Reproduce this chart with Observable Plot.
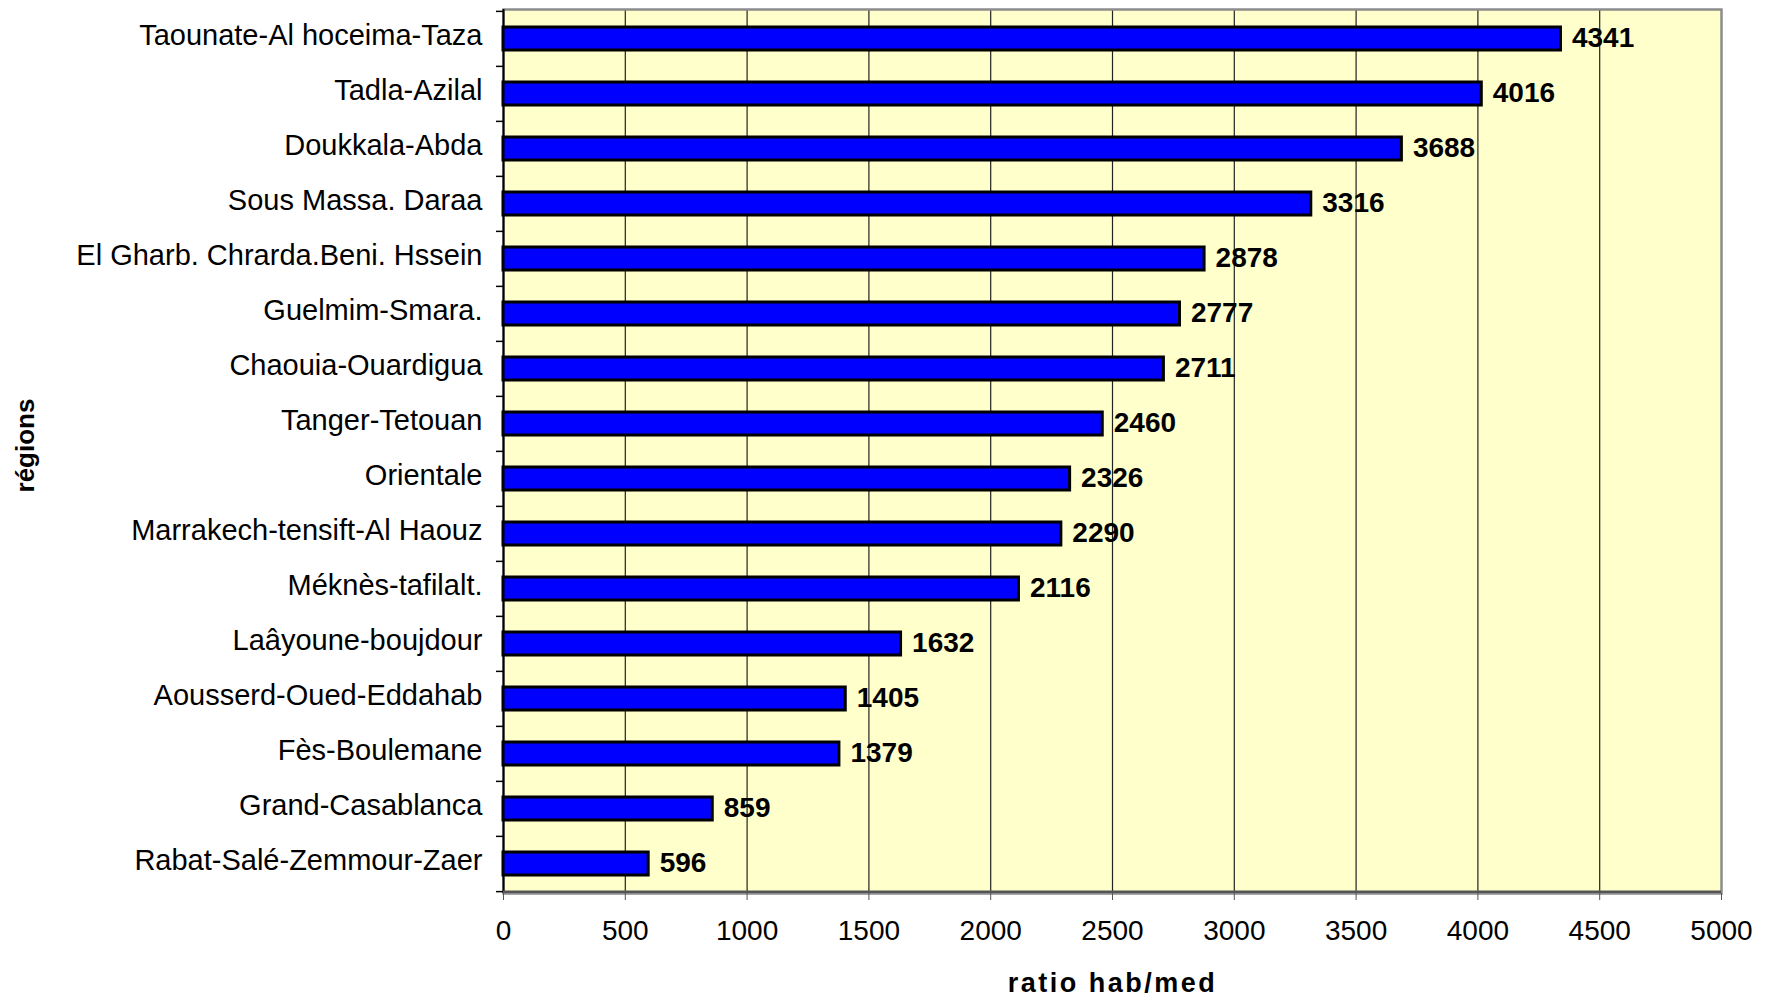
<!DOCTYPE html>
<html>
<head>
<meta charset="utf-8">
<script src="https://cdn.jsdelivr.net/npm/d3@7"></script>
<script src="https://cdn.jsdelivr.net/npm/@observablehq/plot@0.6"></script>
<style>
  html, body { margin: 0; padding: 0; background: white; }
  .xlabel-title text, text.xlabel-title, .xlabel-title { letter-spacing: 2.5px; }
</style>
</head>
<body>
<div id="chart"></div>
<script>
const regions = [
  "Taounate-Al hoceima-Taza",
  "Tadla-Azilal",
  "Doukkala-Abda",
  "Sous Massa. Daraa",
  "El Gharb. Chrarda.Beni. Hssein",
  "Guelmim-Smara.",
  "Chaouia-Ouardigua",
  "Tanger-Tetouan",
  "Orientale",
  "Marrakech-tensift-Al Haouz",
  "Méknès-tafilalt.",
  "Laâyoune-boujdour",
  "Aousserd-Oued-Eddahab",
  "Fès-Boulemane",
  "Grand-Casablanca",
  "Rabat-Salé-Zemmour-Zaer"
];
const values = [4341, 4016, 3688, 3316, 2878, 2777, 2711, 2460, 2326, 2290, 2116, 1632, 1405, 1379, 859, 596];
const xTicks = [0, 500, 1000, 1500, 2000, 2500, 3000, 3500, 4000, 4500, 5000];
const xLabel = "ratio hab/med";
const yLabel = "régions";

const data = regions.map((r, i) => ({region: r, value: values[i]}));

const W = 1767, H = 996;
const mL = 503, mR = 46, mT = 9, mB = 103;
const step = (H - mT - mB) / regions.length;
const tickLenData = 7 * 5000 / (W - mL - mR);

const chart = Plot.plot({
  width: W,
  height: H,
  marginLeft: mL,
  marginRight: mR,
  marginTop: mT,
  marginBottom: mB,
  style: {fontFamily: "'Liberation Sans', Arial, sans-serif", fontSize: "28px", background: "white", color: "black", overflow: "visible"},
  x: {domain: [0, 5000], ticks: xTicks},
  y: {domain: regions, paddingInner: 0.58, paddingOuter: 0.29},
  marks: [
    Plot.frame({fill: "#FFFFCC", stroke: null}),
    Plot.gridX(xTicks.slice(1, -1), {stroke: "#222", strokeOpacity: 1, strokeWidth: 1.2}),
    Plot.frame({stroke: "#8c8c8c", strokeWidth: 2.5}),
    Plot.ruleX([0], {stroke: "#000", strokeWidth: 2}),
    Plot.ruleY([0], {y: () => regions[regions.length - 1], dy: step / 2, x1: 0, x2: 5000, stroke: "#555", strokeWidth: 2.5}),
    Plot.barX(data, {x: "value", y: "region", fill: "#0000FF", stroke: "#000", strokeWidth: 3}),
    Plot.text(data, {x: "value", y: "region", text: d => String(d.value), dx: 11, dy: -1, textAnchor: "start", fontWeight: "bold", fontSize: 28, fill: "#000"}),
    Plot.axisY({tickSize: 0, tickPadding: 21, label: null, fontSize: 29, dy: -3}),
    Plot.ruleY(regions, {y: d => d, dy: -step / 2, x1: -tickLenData, x2: 0, stroke: "#000", strokeWidth: 1.5}),
    Plot.ruleY([regions[regions.length - 1]], {y: d => d, dy: step / 2, x1: -tickLenData, x2: 0, stroke: "#000", strokeWidth: 1.5}),
    Plot.axisX({ticks: xTicks, tickSize: 7, tickPadding: 20, label: null, tickFormat: d => String(d), fontSize: 28, stroke: "#555"}),
    Plot.text([xLabel], {frameAnchor: "bottom", dy: 98, text: d => d, fontWeight: "bold", fontSize: 27, fill: "#000", className: "xlabel-title"}),
    Plot.text([yLabel], {frameAnchor: "left", textAnchor: "middle", dx: -478, dy: -6, rotate: -90, text: d => d, fontWeight: "bold", fontSize: 26, fill: "#000"})
  ]
});
document.getElementById("chart").appendChild(chart);
</script>
</body>
</html>
